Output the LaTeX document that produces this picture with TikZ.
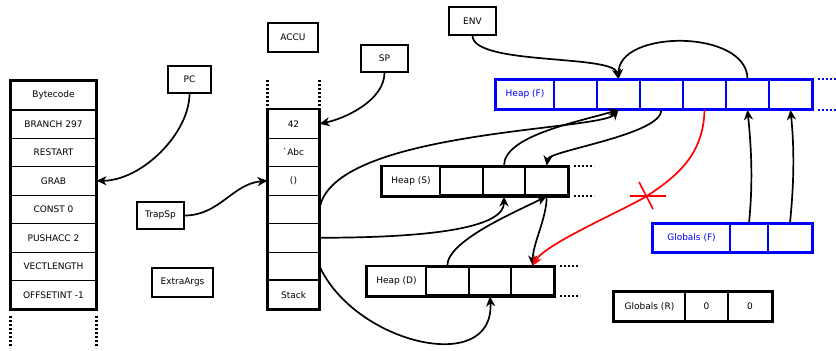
\documentclass[tikz,border=0pt]{standalone}
\usepackage{fontspec}
\setmainfont{DejaVu Sans}
\usetikzlibrary{arrows.meta}
\begin{document}
\begin{tikzpicture}[x=1pt,y=-1pt,
  font=\fontsize{9}{11}\selectfont,
  box/.style={draw, line width=1.1pt, inner sep=0pt},
  row/.style={draw, line width=1pt, inner sep=0pt, minimum width=85pt, minimum height=28.5pt},
  srow/.style={draw, line width=1pt, inner sep=0pt, minimum width=51pt, minimum height=28.5pt},
  hlab/.style={draw, line width=1.3pt, inner sep=0pt, minimum height=28.5pt},
  hcell/.style={draw, line width=2.2pt, inner sep=0pt, minimum height=28.5pt},
  frame/.style={line width=2.5pt},
  dots/.style={line width=2.2pt, dash pattern=on 2pt off 2pt},
  arr/.style={line width=1.7pt, -{Stealth[length=10pt,width=9pt,inset=3pt]}},
]
\useasboundingbox (0,0) rectangle (836,351);

% small register boxes
\node[box, minimum width=43pt, minimum height=27pt] (pc) at (189.5,79.5) {PC};
\node[box, minimum width=50pt, minimum height=29pt] (accu) at (293,37.5) {ACCU};
\node[box, minimum width=47pt, minimum height=27pt] (trap) at (160.5,215.5) {TrapSp};
\node[box, minimum width=61pt, minimum height=29pt] (extra) at (182.5,282.5) {ExtraArgs};
\node[box, minimum width=47pt, minimum height=27pt] (sp) at (384.5,58.5) {SP};
\node[box, minimum width=47pt, minimum height=28pt] (env) at (472.5,21) {ENV};

% bytecode column
\node[row] (bc) at (53.5,95.25) {Bytecode};
\node[row] (b1) at (53.5,123.75) {BRANCH 297};
\node[row] (b2) at (53.5,152.25) {RESTART};
\node[row] (b3) at (53.5,180.75) {GRAB};
\node[row] (b4) at (53.5,209.25) {CONST 0};
\node[row] (b5) at (53.5,237.75) {PUSHACC 2};
\node[row] (b6) at (53.5,266.25) {VECTLENGTH};
\node[row] (b7) at (53.5,294.75) {OFFSETINT -1};
\draw[frame] (bc.north west) rectangle (b7.south east);
\draw[frame] (bc.south west) -- (bc.south east);
\draw[dots] (b7.south west) ++(0,6) -- ++(0,32);
\draw[dots] (b7.south east) ++(0,6) -- ++(0,32);

% stack column
\node[srow] (s1) at (293.5,123.75) {42};
\node[srow] (s2) at (293.5,152.25) {\textasciigrave Abc};
\node[srow] (s3) at (293.5,180.75) {()};
\node[srow] (s4) at (293.5,209.25) {};
\node[srow] (s5) at (293.5,237.75) {};
\node[srow] (s6) at (293.5,266.25) {};
\node[srow] (st) at (293.5,294.75) {Stack};
\draw[frame] (s1.north west) rectangle (st.south east);
\draw[frame] (st.north west) -- (st.north east);
\draw[dots] (s1.north west) ++(0,-3) -- ++(0,-26);
\draw[dots] (s1.north east) ++(0,-3) -- ++(0,-26);

% Heap (F)
\begin{scope}[blue]
\node[hlab, minimum width=58pt, text=blue] (hF) at (525,94.5) {Heap (F)};
\node[hcell, minimum width=43pt] (f1) at (575.5,94.5) {};
\node[hcell, minimum width=43pt] (f2) at (618.5,94.5) {};
\node[hcell, minimum width=43pt] (f3) at (661.5,94.5) {};
\node[hcell, minimum width=43pt] (f4) at (704.5,94.5) {};
\node[hcell, minimum width=43pt] (f5) at (747.5,94.5) {};
\node[hcell, minimum width=43pt] (f6) at (790.5,94.5) {};
\draw[frame] (hF.north west) rectangle (f6.south east);
\draw[dots] (f6.north east) ++(5,0) -- ++(20,0);
\draw[dots] (f6.south east) ++(5,0) -- ++(20,0);
\end{scope}

% Heap (S)
\node[hlab, minimum width=58pt] (hS) at (411,181) {Heap (S)};
\node[hcell, minimum width=42.7pt] (hs1) at (461.3,181) {};
\node[hcell, minimum width=42.7pt] (hs2) at (504,181) {};
\node[hcell, minimum width=42.7pt] (hs3) at (546.7,181) {};
\draw[frame] (hS.north west) rectangle (hs3.south east);
\draw[dots] (hs3.north east) ++(5,0) -- ++(20,0);
\draw[dots] (hs3.south east) ++(5,0) -- ++(20,0);

% Heap (D)
\node[hlab, minimum width=59pt] (hD) at (396.5,281) {Heap (D)};
\node[hcell, minimum width=42.7pt] (hd1) at (447.3,281) {};
\node[hcell, minimum width=42.7pt] (hd2) at (490,281) {};
\node[hcell, minimum width=42.7pt] (hd3) at (532.7,281) {};
\draw[frame] (hD.north west) rectangle (hd3.south east);
\draw[dots] (hd3.north east) ++(5,0) -- ++(20,0);
\draw[dots] (hd3.south east) ++(5,0) -- ++(20,0);

% Globals (F)
\begin{scope}[blue]
\node[hlab, minimum width=77pt, minimum height=28pt, text=blue] (gF) at (691.5,238) {Globals (F)};
\node[hcell, minimum width=38pt, minimum height=28pt] (gf1) at (749,238) {};
\node[hcell, minimum width=44pt, minimum height=28pt] (gf2) at (790,238) {};
\draw[frame] (gF.north west) rectangle (gf2.south east);
\end{scope}

% Globals (R)
\node[hlab, minimum width=71pt, minimum height=29pt] (gR) at (649.5,306.5) {Globals (R)};
\node[hcell, minimum width=43pt, minimum height=29pt] (gr1) at (706.5,306.5) {0};
\node[hcell, minimum width=44pt, minimum height=29pt] (gr2) at (750,306.5) {0};
\draw[frame] (gR.north west) rectangle (gr2.south east);

% connectors
\draw[arr] (pc.south) .. controls +(0,40) and +(45,0) .. (b3.east);
\draw[arr] (trap.east) .. controls +(35,0) and +(-35,3) .. (s3.west);
\draw[arr] (sp.south) .. controls +(0,28) and +(25,-5) .. (s1.east);
\draw[arr] (env.south) .. controls +(0,30) and +(-5,-25) .. (f2.north);
\draw[arr] (f5.north) .. controls +(0,-50) and +(0,-50) .. (f2.north);
\draw[arr] (s4.east) .. controls +(11,-79) and +(-18.5,21) .. (f2.south);
\draw[arr] (hs2.north) .. controls +(0,-30) and +(-40,12) .. (f2.south);
\draw[arr] (f3.south) .. controls +(0,25) and +(2,-15) .. (hs3.north);
\draw[arr] (s5.east) .. controls +(120,0) and +(0,30) .. (hs2.south);
\draw[arr] (hd1.north) .. controls +(0,-25) and +(-30,15) .. (hs3.south);
\draw[arr] (hs3.south) .. controls +(0,22) and +(0,-22) .. (hd3.north);
\draw[arr] (s6.east) .. controls +(36,78) and +(5,80) .. (hd2.south);
\draw[arr] (gf1.north) .. controls +(4,-40) and +(4,40) .. (f5.south);
\draw[arr] (gf2.north) .. controls +(4,-40) and +(4,40) .. (f6.south);

% red cut link
\coordinate (x) at (647,196);
\draw[arr, red] (f4.south) .. controls +(-1,45) and +(30,-20) .. (x) .. controls +(-27,16) and +(13,-22) .. (hd3.north);
\draw[red, line width=1.6pt] (x) ++(-17,0) -- ++(36,0);
\draw[red, line width=1.6pt] (x) ++(-8,-14) -- ++(14,27);
\end{tikzpicture}
\end{document}
